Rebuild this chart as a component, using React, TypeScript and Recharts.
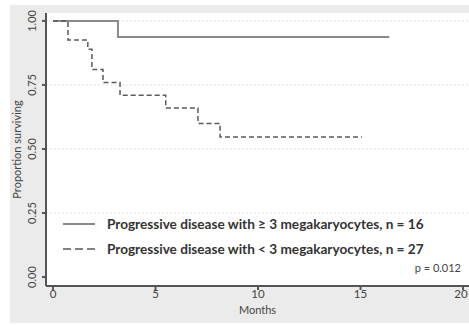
import React from 'react';
import { LineChart, Line, XAxis, YAxis, CartesianGrid, ReferenceLine, Legend } from 'recharts';

const solidTimes = [0, 3.17, 16.4];
const solidSurv = [1, 0.9375, 0.9375];
const dashTimes = [0, 0.73, 1.7, 1.9, 2.44, 3.27, 5.5, 7.07, 8.15, 15.07];
const dashSurv = [1, 0.926, 0.889, 0.81, 0.76, 0.71, 0.66, 0.6, 0.547, 0.547];
const xTicks = [0, 5, 10, 15, 20];
const yTicks = [0, 0.25, 0.5, 0.75, 1];
const yTickLabels = ['0.00', '0.25', '0.50', '0.75', '1.00'];
const gridValues = [0.25, 0.5, 0.75, 1];
const legendLabels = [
  'Progressive disease with \u2265 3 megakaryocytes, n = 16',
  'Progressive disease with < 3 megakaryocytes, n = 27',
];
const pValueText = 'p = 0.012';

const solidData = solidTimes.map((t, i) => ({ t, s: solidSurv[i] }));
const dashData = dashTimes.map((t, i) => ({ t, s: dashSurv[i] }));

const FONT = 'Lato, "Open Sans", sans-serif';

const YTick = (props: any) => {
  const { x, y, payload } = props;
  const idx = yTicks.indexOf(payload.value);
  return (
    <text
      x={x - 4}
      y={y}
      transform={`rotate(-90 ${x - 4} ${y})`}
      textAnchor="middle"
      fontSize={11}
      fill="#444"
      fontFamily={FONT}
    >
      {idx >= 0 ? yTickLabels[idx] : payload.value}
    </text>
  );
};

const XTick = (props: any) => {
  const { x, y, payload } = props;
  return (
    <text x={x} y={y + 6} textAnchor="middle" fontSize={11.5} fill="#444" fontFamily={FONT}>
      {payload.value}
    </text>
  );
};

const LegendContent = () => (
  <svg width={410} height={62} style={{ display: 'block' }}>
    <line x1={8} x2={40} y1={9} y2={9} stroke="#8a8a8a" strokeWidth={2} />
    <text x={52} y={13.5} fontSize={13.6} fontWeight="bold" fill="#333" fontFamily={FONT}>
      {legendLabels[0]}
    </text>
    <line x1={8} x2={42} y1={34} y2={34} stroke="#5a5a5a" strokeWidth={1.5} strokeDasharray="8 4" />
    <text x={52} y={38.5} fontSize={13.6} fontWeight="bold" fill="#333" fontFamily={FONT}>
      {legendLabels[1]}
    </text>
    <text x={406} y={57} fontSize={11} textAnchor="end" fill="#444" fontFamily={FONT}>
      {pValueText}
    </text>
  </svg>
);

export default function App() {
  return (
    <div style={{ position: 'absolute', left: 0, top: 0, width: 469, height: 325, background: '#fff' }}>
      <div style={{ position: 'absolute', left: 10, top: 5, width: 459, height: 318, background: '#ebebeb' }} />
      <div style={{ position: 'absolute', left: 0, top: 0 }}>
        <LineChart width={469} height={325} margin={{ top: 13, right: 0, bottom: 9, left: 10 }}>
          <CartesianGrid horizontal={false} vertical={false} fill="#ffffff" />
          {gridValues.map((v) => (
            <ReferenceLine key={v} y={v} stroke="#e2e2e2" strokeDasharray="2 2" ifOverflow="visible" />
          ))}
          <XAxis
            type="number"
            dataKey="t"
            domain={[-0.34, 20.29]}
            ticks={xTicks}
            allowDataOverflow
            height={30}
            stroke="#555"
            strokeWidth={2}
            tickSize={4}
            tick={<XTick />}
            label={{ value: 'Months', position: 'insideBottom', offset: 2, fontSize: 11, fill: '#444', fontFamily: FONT }}
          />
          <YAxis
            type="number"
            dataKey="s"
            domain={[-0.035, 1.031]}
            ticks={yTicks}
            allowDataOverflow
            width={36}
            stroke="#555"
            strokeWidth={2}
            tickSize={4}
            tick={<YTick />}
            label={{ value: 'Proportion surviving', angle: -90, position: 'insideLeft', offset: 7, fontSize: 11, fill: '#444', fontFamily: FONT, style: { textAnchor: 'middle' } }}
          />
          <Line data={solidData} dataKey="s" type="stepAfter" stroke="#8a8a8a" strokeWidth={2} dot={false} isAnimationActive={false} />
          <Line data={dashData} dataKey="s" type="stepAfter" stroke="#5a5a5a" strokeWidth={1.5} strokeDasharray="5 3" dot={false} isAnimationActive={false} />
          <Legend
            layout="horizontal"
            align="center"
            verticalAlign="middle"
            content={<LegendContent />}
            wrapperStyle={{ position: 'absolute', left: 55, top: 215, width: 410, height: 62 }}
          />
        </LineChart>
      </div>
    </div>
  );
}
